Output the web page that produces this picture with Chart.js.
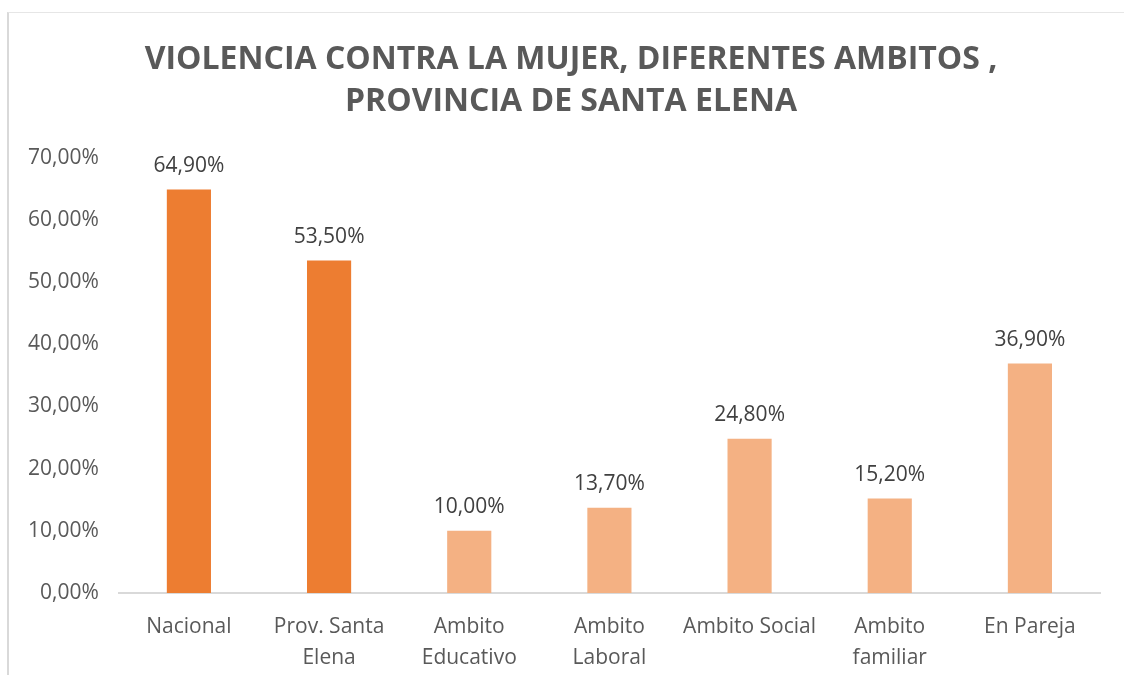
<!DOCTYPE html>
<html>
	<head>
		<meta charset="UTF-8">
		<style>
			body { margin: 0; background: #fff; }
			#frame { position: absolute; left: 7px; top: 12px; width: 1117px; height: 663px;
				border-left: 2px solid #d9d9d9; border-top: 1px solid #e6e6e6; box-sizing: border-box; }
			#wrap { position: absolute; left: 0; top: 0; width: 1124px; height: 675px; }
		</style>
	</head>
	<script src="https://cdn.jsdelivr.net/npm/chart.js@4/dist/chart.umd.min.js"></script>
	<body>
		<div id="frame"></div>
		<div id="wrap"><canvas id="myChart" width="1124" height="675"></canvas></div>
		<script>
			var categorias = ["Nacional", ["Prov. Santa", "Elena"], ["Ambito", "Educativo"], ["Ambito", "Laboral"], "Ambito Social", ["Ambito", "familiar"], "En Pareja"];
			var porcentajes = [64.9, 53.5, 10.0, 13.7, 24.8, 15.2, 36.9];
			var colores = ["#ED7D31", "#ED7D31", "#F4B183", "#F4B183", "#F4B183", "#F4B183", "#F4B183"];
			var titulo = ["VIOLENCIA CONTRA LA MUJER, DIFERENTES AMBITOS ,", "PROVINCIA DE SANTA ELENA"];

			var fmt = function (v) {
				return v.toFixed(2).replace('.', ',') + '%';
			};

			// etiquetas encima de cada barra
			var etiquetas = {
				id: 'etiquetas',
				afterLayout: function (chart) {
					// el titulo del original queda un poco a la derecha
					if (chart.titleBlock) {
						chart.titleBlock.left += 13;
						chart.titleBlock.right += 13;
					}
				},
				afterDatasetsDraw: function (chart) {
					var ctx = chart.ctx;
					var meta = chart.getDatasetMeta(0);
					ctx.save();
					ctx.font = '21px "Open Sans"';
					ctx.fillStyle = '#404040';
					ctx.textAlign = 'center';
					ctx.textBaseline = 'bottom';
					meta.data.forEach(function (bar, i) {
						ctx.fillText(fmt(porcentajes[i]), bar.x, bar.y - 13);
					});
					ctx.restore();
				}
			};

			new Chart("myChart", {
				type: "bar",
				data: {
					labels: categorias,
					datasets: [{
						data: porcentajes,
						backgroundColor: colores,
						barPercentage: 0.315,
						categoryPercentage: 1
					}]
				},
				plugins: [etiquetas],
				options: {
					responsive: false,
					animation: false,
					layout: { padding: { left: 16, right: 24, top: 39, bottom: -9 } },
					plugins: {
						legend: { display: false },
						tooltip: { enabled: false },
						title: {
							display: true,
							text: titulo,
							color: '#595959',
							font: { family: 'Open Sans', size: 32, weight: 'bold', lineHeight: 1.31 },
							padding: { top: 0, bottom: 35 }
						}
					},
					scales: {
						x: {
							grid: { display: false },
							border: { display: true, color: '#d9d9d9', width: 2 },
							ticks: {
								color: '#595959',
								font: { family: 'Open Sans', size: 21, lineHeight: 1.5 },
								padding: 10,
								maxRotation: 0,
								autoSkip: false
							}
						},
						y: {
							min: 0,
							max: 70,
							grid: { display: false },
							border: { display: false },
							ticks: {
								stepSize: 10,
								color: '#595959',
								font: { family: 'Open Sans', size: 21 },
								padding: 12,
								callback: function (v) { return fmt(v); }
							}
						}
					}
				}
			});
		</script>
	</body>
</html>
